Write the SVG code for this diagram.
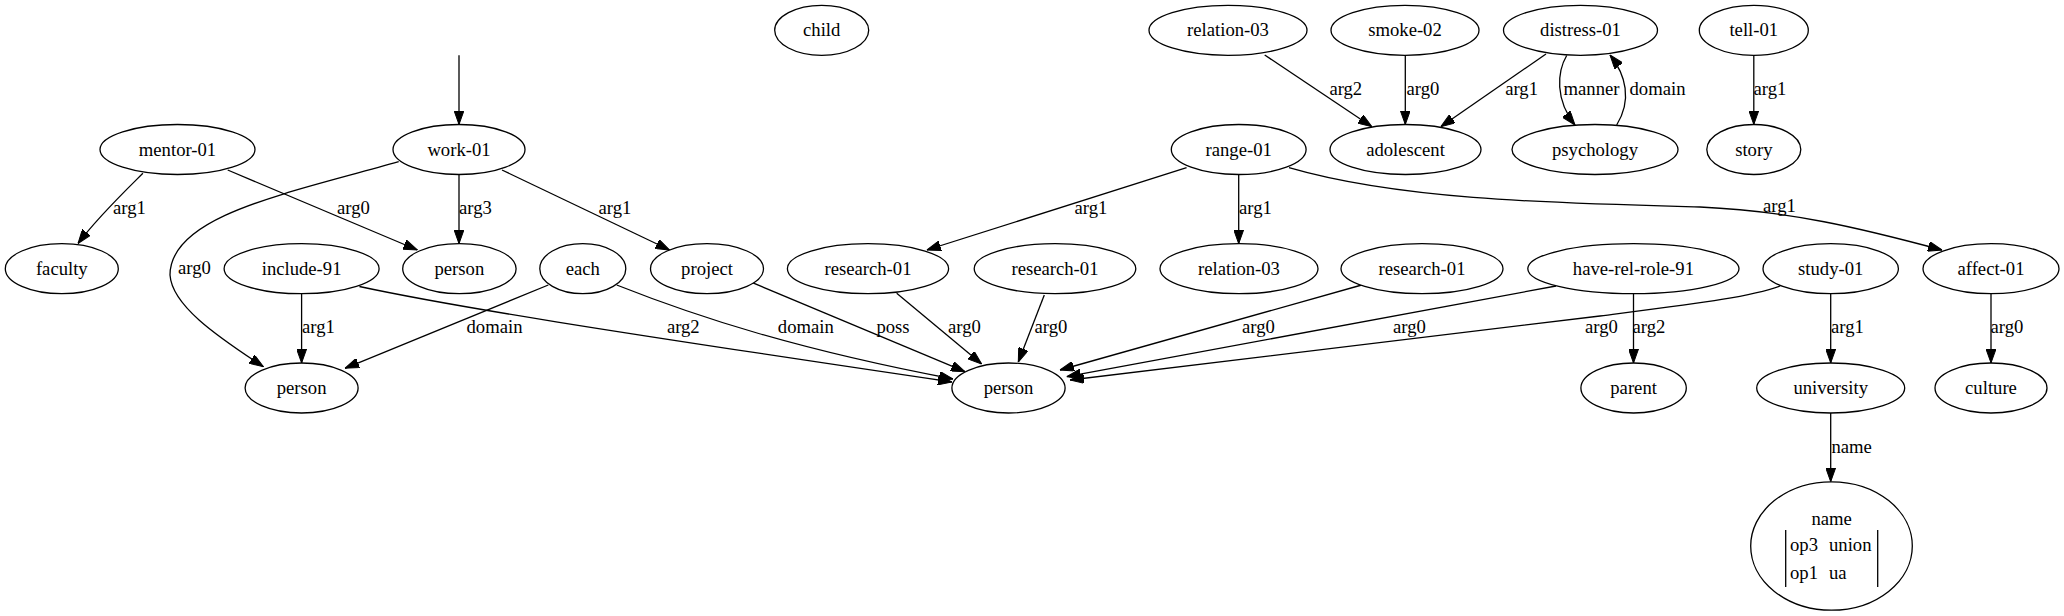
<svg xmlns="http://www.w3.org/2000/svg" width="2064" height="616" viewBox="0 0 2064 616" font-family="'Liberation Serif', 'Times New Roman', Times, serif">
<style>
.n ellipse{fill:#fff;stroke:#000;stroke-width:1.3}
text{font-family:'Liberation Serif','Times New Roman',Times,'DejaVu Serif',serif;font-size:18.67px;fill:#000}
.n text{text-anchor:middle}
.e path{fill:none;stroke:#000;stroke-width:1.3;marker-end:url(#ah)}
.e text{text-anchor:middle}
</style>
<defs>
<marker id="ah" markerUnits="userSpaceOnUse" markerWidth="14" markerHeight="10" refX="14" refY="5" orient="auto">
<path d="M0,0 L14,5 L0,10 z" fill="#000" stroke="#000" stroke-width="1"/>
</marker>
</defs>
<rect width="2064" height="616" fill="#fff"/>
<g id="edges" class="e">
<path d="M459,55.3 L459,124.5"/>
<path d="M142.9,173.3 C122,194 98,217 78,243.5"/><text x="129.5" y="214">arg1</text>
<path d="M227.7,170 L417.4,250"/><text x="353.5" y="214">arg0</text>
<path d="M398.7,161.7 C290,193 170,215 170,275 C172,305 215,335 263.4,366.7"/><text x="194.5" y="274">arg0</text>
<path d="M459,174.5 L459,243.7"/><text x="475.4" y="214">arg3</text>
<path d="M502,170 L669.6,250"/><text x="615" y="214">arg1</text>
<path d="M301.6,293.7 L301.6,363"/><text x="318.5" y="333">arg1</text>
<path d="M359.4,286.5 C450,306 600,330 952,382"/><text x="683.3" y="333">arg2</text>
<path d="M548.3,285 L345,368.3"/><text x="494.5" y="333">domain</text>
<path d="M616.7,285 C700,318 800,350 953,379"/><text x="805.8" y="333">domain</text>
<path d="M750,281.7 L965,371.7"/><text x="893" y="333">poss</text>
<path d="M896.7,293.3 L981.7,364"/><text x="964.5" y="333">arg0</text>
<path d="M1044.3,295 L1018.3,362"/><text x="1051" y="333">arg0</text>
<path d="M1361.7,285 L1060,370"/><text x="1258.5" y="333">arg0</text>
<path d="M1556,286 L1066.7,376.7"/><text x="1409.5" y="333">arg0</text>
<path d="M1780,286 C1750,297 1700,303 1600,316 L1070,380"/><text x="1601.5" y="333">arg0</text>
<path d="M1633.5,293.7 L1633.5,363"/><text x="1649" y="333">arg2</text>
<path d="M1830.7,293.7 L1830.7,363"/><text x="1847.5" y="333">arg1</text>
<path d="M1991,293.7 L1991,363"/><text x="2007" y="333">arg0</text>
<path d="M1830.7,413 L1830.7,481.7"/><text x="1851.7" y="452.5">name</text>
<path d="M1186.6,167.7 L926.8,250"/><text x="1091" y="214">arg1</text>
<path d="M1238.7,174.5 L1238.7,243.7"/><text x="1255.5" y="214">arg1</text>
<path d="M1289,167.7 C1400,200 1550,203 1700,207 C1790,211 1860,228 1942,250"/><text x="1779.4" y="212">arg1</text>
<path d="M1264.7,55 L1371.9,126.7"/><text x="1345.8" y="95">arg2</text>
<path d="M1405.3,55.3 L1405.3,124.5"/><text x="1423" y="95">arg0</text>
<path d="M1546,54 L1440.8,126.7"/><text x="1521.6" y="95">arg1</text>
<path d="M1566.7,55.5 C1557,72 1555,100 1575,125"/><text x="1591.5" y="95">manner</text>
<path d="M1616.7,125 C1632,100 1626,75 1610,55"/><text x="1657.5" y="95">domain</text>
<path d="M1753.8,55.3 L1753.8,124.5"/><text x="1770" y="95">arg1</text>
</g>
<g id="child" class="n"><ellipse cx="821.7" cy="30.3" rx="47" ry="25"/><text x="821.7" y="36.3">child</text></g>
<g id="relation-03-a" class="n"><ellipse cx="1228" cy="30.3" rx="79" ry="25"/><text x="1228" y="36.3">relation-03</text></g>
<g id="smoke-02" class="n"><ellipse cx="1405" cy="30.3" rx="74" ry="25"/><text x="1405" y="36.3">smoke-02</text></g>
<g id="distress-01" class="n"><ellipse cx="1580.5" cy="30.3" rx="77" ry="25"/><text x="1580.5" y="36.3">distress-01</text></g>
<g id="tell-01" class="n"><ellipse cx="1753.8" cy="30.3" rx="54.5" ry="25"/><text x="1753.8" y="36.3">tell-01</text></g>
<g id="mentor-01" class="n"><ellipse cx="177.5" cy="149.5" rx="77.5" ry="25"/><text x="177.5" y="155.5">mentor-01</text></g>
<g id="work-01" class="n"><ellipse cx="459" cy="149.5" rx="66" ry="25"/><text x="459" y="155.5">work-01</text></g>
<g id="range-01" class="n"><ellipse cx="1238.7" cy="149.5" rx="67.4" ry="25"/><text x="1238.7" y="155.5">range-01</text></g>
<g id="adolescent" class="n"><ellipse cx="1405.5" cy="149.5" rx="75.5" ry="25"/><text x="1405.5" y="155.5">adolescent</text></g>
<g id="psychology" class="n"><ellipse cx="1595" cy="149.5" rx="83" ry="25"/><text x="1595" y="155.5">psychology</text></g>
<g id="story" class="n"><ellipse cx="1753.8" cy="149.5" rx="47" ry="25"/><text x="1753.8" y="155.5">story</text></g>
<g id="faculty" class="n"><ellipse cx="61.8" cy="268.7" rx="56.5" ry="25"/><text x="61.8" y="274.7">faculty</text></g>
<g id="include-91" class="n"><ellipse cx="301.6" cy="268.7" rx="77.5" ry="25"/><text x="301.6" y="274.7">include-91</text></g>
<g id="person-a" class="n"><ellipse cx="459.4" cy="268.7" rx="56.7" ry="25"/><text x="459.4" y="274.7">person</text></g>
<g id="each" class="n"><ellipse cx="582.8" cy="268.7" rx="43" ry="25"/><text x="582.8" y="274.7">each</text></g>
<g id="project" class="n"><ellipse cx="707" cy="268.7" rx="56.5" ry="25"/><text x="707" y="274.7">project</text></g>
<g id="research-01-a" class="n"><ellipse cx="868" cy="268.7" rx="80.6" ry="25"/><text x="868" y="274.7">research-01</text></g>
<g id="research-01-b" class="n"><ellipse cx="1055" cy="268.7" rx="80.8" ry="25"/><text x="1055" y="274.7">research-01</text></g>
<g id="relation-03-b" class="n"><ellipse cx="1239" cy="268.7" rx="79" ry="25"/><text x="1239" y="274.7">relation-03</text></g>
<g id="research-01-c" class="n"><ellipse cx="1422" cy="268.7" rx="81" ry="25"/><text x="1422" y="274.7">research-01</text></g>
<g id="have-rel-role-91" class="n"><ellipse cx="1633.4" cy="268.7" rx="105.6" ry="25"/><text x="1633.4" y="274.7">have-rel-role-91</text></g>
<g id="study-01" class="n"><ellipse cx="1830.7" cy="268.7" rx="67.7" ry="25"/><text x="1830.7" y="274.7">study-01</text></g>
<g id="affect-01" class="n"><ellipse cx="1991" cy="268.7" rx="68" ry="25"/><text x="1991" y="274.7">affect-01</text></g>
<g id="person-b" class="n"><ellipse cx="301.6" cy="388" rx="56.5" ry="25"/><text x="301.6" y="394">person</text></g>
<g id="person-c" class="n"><ellipse cx="1008.5" cy="388" rx="56.6" ry="25"/><text x="1008.5" y="394">person</text></g>
<g id="parent" class="n"><ellipse cx="1633.6" cy="388" rx="52.7" ry="25"/><text x="1633.6" y="394">parent</text></g>
<g id="university" class="n"><ellipse cx="1830.7" cy="388" rx="74" ry="25"/><text x="1830.7" y="394">university</text></g>
<g id="culture" class="n"><ellipse cx="1991" cy="388" rx="56" ry="25"/><text x="1991" y="394">culture</text></g>
<g id="name" class="n"><ellipse cx="1831.5" cy="546" rx="80.8" ry="64.2"/>
<text x="1831.7" y="524.5">name</text>
<path d="M1785.7,530 L1785.7,587 M1877.7,530 L1877.7,587" stroke="#000" stroke-width="1.3" fill="none"/>
<text x="1790" y="550.5" style="text-anchor:start">op3</text><text x="1829" y="550.5" style="text-anchor:start">union</text>
<text x="1790" y="578.5" style="text-anchor:start">op1</text><text x="1829" y="578.5" style="text-anchor:start">ua</text>
</g>
</svg>
